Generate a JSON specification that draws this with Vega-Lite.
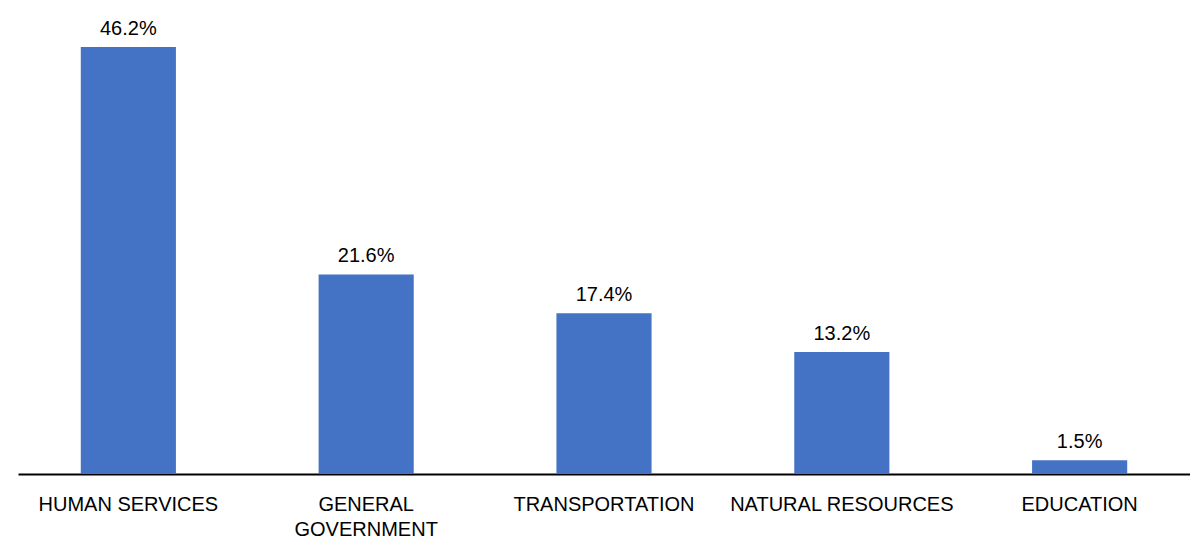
{
  "$schema": "https://vega.github.io/schema/vega-lite/v6.json",
  "autosize": {"type": "none"},
  "width": 1172,
  "height": 462,
  "padding": {"left": 18, "top": 12, "right": 0, "bottom": 65},
  "background": "white",
  "config": {"view": {"stroke": null}, "font": "Liberation Sans"},
  "data": {"values": [
    {"category": "HUMAN SERVICES", "share": 0.462},
    {"category": "GENERAL GOVERNMENT", "share": 0.216},
    {"category": "TRANSPORTATION", "share": 0.174},
    {"category": "NATURAL RESOURCES", "share": 0.132},
    {"category": "EDUCATION", "share": 0.015}
  ]},
  "encoding": {
    "x": {"field": "category", "type": "nominal", "sort": null,
      "scale": {"paddingInner": 0.6, "paddingOuter": 0.264},
      "axis": {"title": null, "labelAngle": 0, "ticks": false, "domainColor": "#000000", "domainWidth": 2,
        "labelFont": "Liberation Sans", "labelFontSize": 20, "labelColor": "#000000", "labelLimit": 400,
        "labelPadding": 36, "labelLineHeight": 25, "labelBaseline": "alphabetic",
        "labelExpr": "datum.label == 'GENERAL GOVERNMENT' ? ['GENERAL', 'GOVERNMENT'] : datum.label"}},
    "y": {"field": "share", "type": "quantitative", "scale": {"domain": [0, 0.5]}, "axis": null}
  },
  "layer": [
    {"mark": {"type": "bar", "color": "#4472C4"}},
    {"mark": {"type": "text", "baseline": "alphabetic", "dy": -12, "fontSize": 20, "font": "Liberation Sans", "color": "#000000"},
     "encoding": {"text": {"field": "share", "type": "quantitative", "format": ".1%"}}}
  ]
}
